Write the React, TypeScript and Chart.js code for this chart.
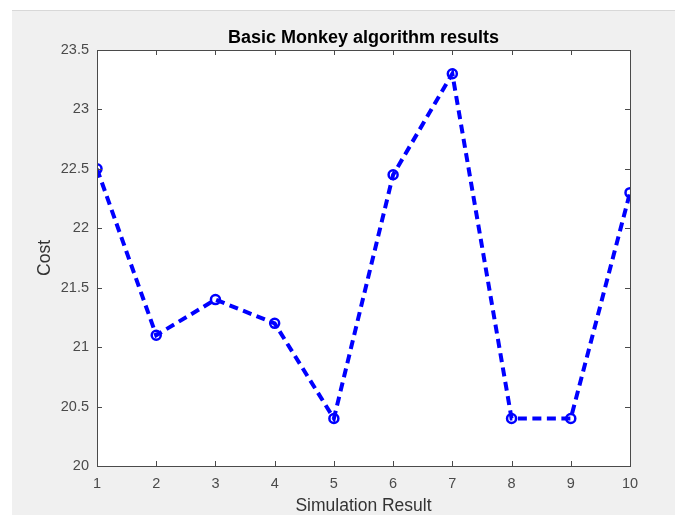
import React, { useEffect, useRef } from 'react';
import { Chart, registerables } from 'chart.js';

Chart.register(...registerables);

const runs = [1, 2, 3, 4, 5, 6, 7, 8, 9, 10];
const costs = [22.5, 21.1, 21.4, 21.2, 20.4, 22.45, 23.3, 20.4, 20.4, 22.3];
const yMin = 20;
const yMax = 23.5;
const yStep = 0.5;
const titleText = 'Basic Monkey algorithm results';
const xLabel = 'Simulation Result';
const yLabel = 'Cost';

const FONT = '"Liberation Sans", Arial, Helvetica, sans-serif';
const AXIS_COLOR = '#4a4a4a';

const matlabPlugin = {
  id: 'matlabBox',
  beforeDraw(chart: any) {
    const { ctx, chartArea: a } = chart;
    ctx.save();
    ctx.fillStyle = '#ffffff';
    ctx.fillRect(a.left, a.top, a.right - a.left, a.bottom - a.top);
    ctx.restore();
  },
  afterDraw(chart: any) {
    const { ctx, chartArea: a } = chart;
    const xs = chart.scales.x;
    const ys = chart.scales.y;
    ctx.save();
    ctx.strokeStyle = AXIS_COLOR;
    ctx.lineWidth = 1;
    const tl = 5;
    ctx.beginPath();
    xs.ticks.forEach((t: any) => {
      const px = Math.round(xs.getPixelForValue(t.value)) + 0.5;
      ctx.moveTo(px, a.bottom);
      ctx.lineTo(px, a.bottom - tl);
      ctx.moveTo(px, a.top);
      ctx.lineTo(px, a.top + tl);
    });
    ys.ticks.forEach((t: any) => {
      const py = Math.round(ys.getPixelForValue(t.value)) + 0.5;
      ctx.moveTo(a.left, py);
      ctx.lineTo(a.left + tl, py);
      ctx.moveTo(a.right, py);
      ctx.lineTo(a.right - tl, py);
    });
    ctx.stroke();
    ctx.strokeRect(Math.round(a.left) + 0.5, Math.round(a.top) + 0.5, Math.round(a.right - a.left), Math.round(a.bottom - a.top));
    ctx.fillStyle = '#000000';
    ctx.font = 'bold 18px ' + FONT;
    ctx.textAlign = 'center';
    ctx.textBaseline = 'alphabetic';
    ctx.fillText(titleText, (a.left + a.right) / 2, 42.5);
    ctx.restore();
  },
};

export default function App() {
  const ref = useRef<HTMLCanvasElement | null>(null);

  useEffect(() => {
    if (!ref.current) return;
    const chart = new Chart(ref.current, {
      type: 'line',
      data: {
        datasets: [
          {
            data: runs.map((r, i) => ({ x: r, y: costs[i] })),
            borderColor: '#0000ff',
            borderWidth: 4,
            borderDash: [9, 5.5],
            pointStyle: 'circle',
            pointRadius: 4.5,
            pointBorderWidth: 2.5,
            pointBorderColor: '#0000ff',
            pointBackgroundColor: 'rgba(255,255,255,0)',
            tension: 0,
            fill: false,
          },
        ],
      },
      options: {
        responsive: false,
        animation: false,
        devicePixelRatio: 1,
        layout: { padding: { left: 12, top: 50, right: 45, bottom: 0 } },
        plugins: {
          legend: { display: false },
          tooltip: { enabled: false },
          title: { display: false },
        },
        scales: {
          x: {
            type: 'linear',
            min: runs[0],
            max: runs[runs.length - 1],
            grid: { display: false, drawTicks: false },
            border: { display: false },
            ticks: {
              stepSize: 1,
              padding: 9,
              color: AXIS_COLOR,
              font: { family: FONT, size: 14.5 },
              maxRotation: 0,
              autoSkip: false,
            },
            title: {
              display: true,
              text: xLabel,
              color: '#333333',
              font: { family: FONT, size: 17.5, lineHeight: 1 },
              padding: { top: 0, bottom: 0 },
            },
            afterFit(scale: any) {
              scale.height = 49;
            },
          },
          y: {
            type: 'linear',
            min: yMin,
            max: yMax,
            grid: { display: false, drawTicks: false },
            border: { display: false },
            ticks: {
              stepSize: yStep,
              padding: 8,
              color: AXIS_COLOR,
              font: { family: FONT, size: 14.5 },
              callback: (v: any) => String(Number(v)),
            },
            title: {
              display: true,
              text: yLabel,
              color: '#333333',
              font: { family: FONT, size: 17.5, lineHeight: 1 },
              padding: { top: 24, bottom: 0 },
            },
            afterFit(scale: any) {
              scale.width = 85;
            },
          },
        },
      },
      plugins: [matlabPlugin],
    });
    return () => chart.destroy();
  }, []);

  return (
    <div style={{ position: 'fixed', left: 0, top: 0, width: 675, height: 515, background: '#ffffff', overflow: 'hidden' }}>
      <div
        style={{
          position: 'absolute',
          left: 12,
          top: 10,
          right: 0,
          bottom: 0,
          background: '#f0f0f0',
          borderTop: '1px solid #d8d8d8',
        }}
      />
      <canvas ref={ref} width={675} height={515} style={{ position: 'absolute', left: 0, top: 0 }} />
    </div>
  );
}
